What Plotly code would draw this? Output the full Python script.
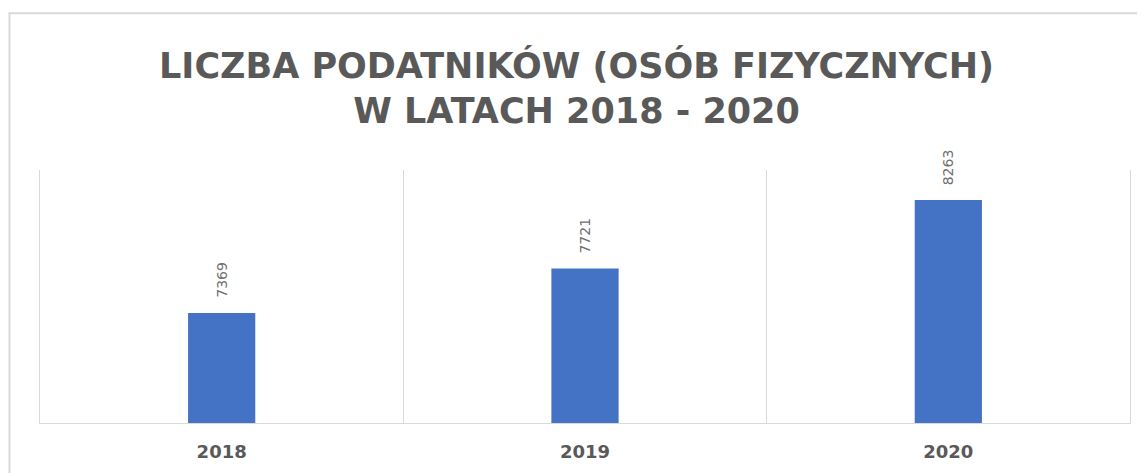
import plotly.graph_objects as go

years = ["2018", "2019", "2020"]
taxpayers = [7369, 7721, 8263]

title_text = "LICZBA PODATNIKÓW (OSÓB FIZYCZNYCH)<br>W LATACH 2018 - 2020"
grey = "#595959"

fig = go.Figure(go.Bar(
    x=years,
    y=taxpayers,
    marker=dict(color="#4472C4", line=dict(width=0)),
    hoverinfo="x+y",
))

# value labels above bars, rotated (x given as category index)
for i, v in enumerate(taxpayers):
    fig.add_annotation(
        x=i, y=v, text=str(v), textangle=-90,
        showarrow=False, yanchor="bottom", yshift=13,
        font=dict(family="DejaVu Sans", size=14, color="#6f6f6f"),
    )

# page body has an 8px margin, so the figure is a bit smaller than the window
fig.update_layout(
    width=1137,
    height=465,
    paper_bgcolor="white",
    plot_bgcolor="white",
    margin=dict(l=32, r=15, t=162, b=50),
    bargap=0.815,
    showlegend=False,
    title=dict(
        text=title_text,
        x=0.5, xanchor="center",
        y=0.85, yanchor="middle",
        font=dict(family="DejaVu Sans", size=35, color=grey, weight="bold"),
    ),
    shapes=[dict(
        type="rect", xref="paper", yref="paper",
        x0=-0.028, x1=1.05, y0=-0.3, y1=1.62,
        line=dict(color="#d9d9d9", width=2),
    )],
)

fig.update_xaxes(
    type="category",
    tickson="boundaries",
    showgrid=True, gridcolor="#d9d9d9", gridwidth=1,
    ticks="", showline=True, linecolor="#d9d9d9",
    tickangle=0, ticklabelstandoff=12,
    tickfont=dict(family="DejaVu Sans", size=18, color=grey, weight="bold"),
)
fig.update_yaxes(
    range=[6500, 8500],
    showgrid=False, zeroline=False, showticklabels=False, ticks="",
    showline=True, mirror=True, linecolor="#d9d9d9", linewidth=1,
)

fig.write_html("out.html")
